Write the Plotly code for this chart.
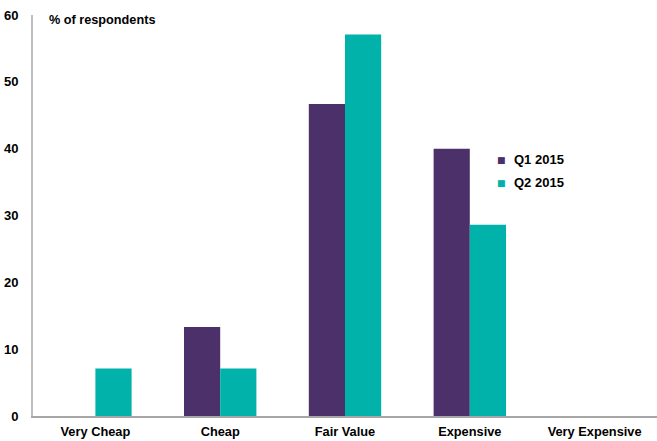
import plotly.graph_objects as go

categories = ["Very Cheap", "Cheap", "Fair Value", "Expensive", "Very Expensive"]
q1_2015 = [0, 13.3, 46.7, 40.0, 0]
q2_2015 = [7.1, 7.1, 57.1, 28.6, 0]
y_ticks = [0, 10, 20, 30, 40, 50, 60]
series_names = ["Q1 2015", "Q2 2015"]

PURPLE = "#4B3069"
TEAL = "#00B2A9"
FONT = "Liberation Sans, Arial, sans-serif"

fig = go.Figure()
fig.add_trace(go.Bar(name=series_names[0], x=categories, y=q1_2015, marker_color=PURPLE,
                     marker_line_width=0, showlegend=False))
fig.add_trace(go.Bar(name=series_names[1], x=categories, y=q2_2015, marker_color=TEAL,
                     marker_line_width=0, showlegend=False))

# Compact legend: small coloured square followed by the series name
annotations = [dict(text="<b>% of respondents</b>", x=0.022, y=0.988, xref="paper", yref="paper",
                    xanchor="left", yanchor="middle", showarrow=False,
                    font=dict(family=FONT, size=12.7, color="#000000"))]
legend_y = [0.639, 0.582]
for name, color, ly in zip(series_names, [PURPLE, TEAL], legend_y):
    annotations.append(dict(text="■", x=0.751, y=ly, xref="paper", yref="paper",
                            xanchor="center", yanchor="middle", showarrow=False,
                            font=dict(family="DejaVu Sans", size=9, color=color)))
    annotations.append(dict(text="<b>" + name + "</b>", x=0.767, y=ly, xref="paper", yref="paper",
                            xanchor="left", yanchor="middle", showarrow=False,
                            font=dict(family=FONT, size=13, color="#000000")))

fig.update_layout(
    width=657, height=441,
    margin=dict(l=33, r=0, t=15, b=25),
    paper_bgcolor="white", plot_bgcolor="white",
    barmode="group", bargap=0.42, bargroupgap=0,
    font=dict(family=FONT, size=12, color="#000000"),
    showlegend=False,
    annotations=annotations,
)
fig.update_xaxes(showline=True, linecolor="#A6A6A6", linewidth=2, ticks="",
                 ticklabelstandoff=3,
                 tickfont=dict(family=FONT, size=12.8, weight="bold"), showgrid=False)
fig.update_yaxes(range=[0, 60], tickvals=y_ticks, showline=True, linecolor="#BFBFBF", linewidth=2,
                 ticks="", showgrid=False, zeroline=False, ticklabelstandoff=10,
                 tickfont=dict(family=FONT, size=13, weight="bold"))

fig.write_html("out.html")
